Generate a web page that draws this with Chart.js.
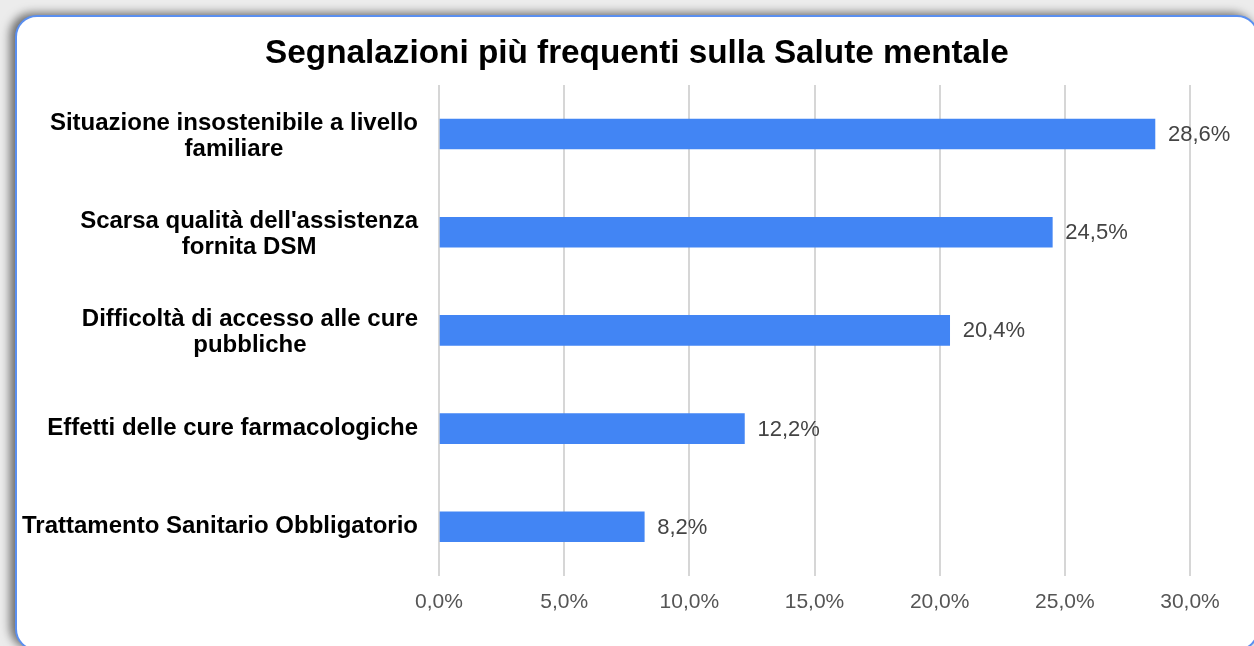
<!DOCTYPE html>
<html>
<head>
<meta charset="utf-8">
<script src="https://cdn.jsdelivr.net/npm/chart.js@4.4.1/dist/chart.umd.min.js"></script>
<style>
  html, body { margin: 0; padding: 0; }
  body { width: 1254px; height: 646px; overflow: hidden; background: #ececec; position: relative; }
  .card {
    position: absolute; left: 15px; top: 15px; width: 1240px; height: 632px;
    background: #fff; border: 2px solid #5a8ff0; border-radius: 22px;
    box-shadow: -5px -2px 10px rgba(0, 0, 0, 0.55);
  }
  .wrap { position: absolute; left: 0; top: 0; width: 1254px; height: 646px; }
</style>
</head>
<body>
<div class="card"></div>
<div class="wrap"><canvas id="chart"></canvas></div>
<script>
const categories = [
    ['Situazione insostenibile a livello', 'familiare'],
    ["Scarsa qualità dell'assistenza", 'fornita DSM'],
    ['Difficoltà di accesso alle cure', 'pubbliche'],
    ['Effetti delle cure farmacologiche'],
    ['Trattamento Sanitario Obbligatorio']
];
const values = [28.6, 24.5, 20.4, 12.2, 8.2];
const tickValues = [0, 5, 10, 15, 20, 25, 30];

const fontFamily = '"Liberation Sans", Arial, sans-serif';

function pct(v) {
    return v.toFixed(1).replace('.', ',') + '%';
}

// category labels: block right-aligned, lines centered inside the block
const categoryLabels = {
    id: 'categoryLabels',
    afterDraw(chart) {
        const ctx = chart.ctx;
        const y = chart.scales.y;
        const right = chart.chartArea.left - 21;
        ctx.save();
        ctx.font = 'bold 24px ' + fontFamily;
        ctx.fillStyle = '#000';
        ctx.textAlign = 'center';
        ctx.textBaseline = 'middle';
        categories.forEach((lines, i) => {
            const cy = y.getPixelForValue(i);
            const w = Math.max(...lines.map(l => ctx.measureText(l).width));
            const cx = right - w / 2;
            const n = lines.length;
            lines.forEach((line, j) => {
                const off = (j - (n - 1) / 2) * 26 + (n > 1 ? 2 : 0);
                ctx.fillText(line, cx, cy + off);
            });
        });
        ctx.restore();
    }
};

// value labels at the end of each bar
const valueLabels = {
    id: 'valueLabels',
    afterDatasetsDraw(chart) {
        const ctx = chart.ctx;
        const meta = chart.getDatasetMeta(0);
        ctx.save();
        ctx.font = '22px ' + fontFamily;
        ctx.fillStyle = '#444';
        ctx.textAlign = 'left';
        ctx.textBaseline = 'middle';
        meta.data.forEach((bar, i) => {
            ctx.fillText(pct(values[i]), bar.x + 13, bar.y + 1);
        });
        ctx.restore();
    }
};

const ctx = document.getElementById('chart').getContext('2d');
const chart = new Chart(ctx, {
    type: 'bar',
    data: {
        labels: categories.map(l => l.join(' ')),
        datasets: [{
            data: values,
            backgroundColor: '#4285f4',
            barThickness: 30
        }]
    },
    options: {
        indexAxis: 'y',
        responsive: true,
        maintainAspectRatio: false,
        animation: false,
        layout: {
            padding: { left: 84, right: 64, top: 34, bottom: 17 }
        },
        plugins: {
            legend: { display: false },
            tooltip: { enabled: false },
            title: {
                display: true,
                text: 'Segnalazioni più frequenti sulla Salute mentale',
                color: '#000',
                font: { family: fontFamily, size: 33.3, weight: 'bold' },
                padding: { top: 0, bottom: 11 }
            }
        },
        scales: {
            x: {
                min: 0,
                max: 30,
                afterBuildTicks(scale) {
                    scale.ticks = tickValues.map(v => ({ value: v }));
                },
                grid: { color: '#d6d6d6', lineWidth: 2, drawTicks: false },
                border: { display: false },
                ticks: {
                    padding: 14,
                    color: '#555',
                    font: { family: fontFamily, size: 21 },
                    callback: v => pct(v)
                }
            },
            y: {
                grid: { display: false },
                border: { display: false },
                ticks: { display: false },
                afterFit(scale) {
                    scale.width = 355;
                }
            }
        }
    },
    plugins: [categoryLabels, valueLabels]
});
</script>
</body>
</html>
